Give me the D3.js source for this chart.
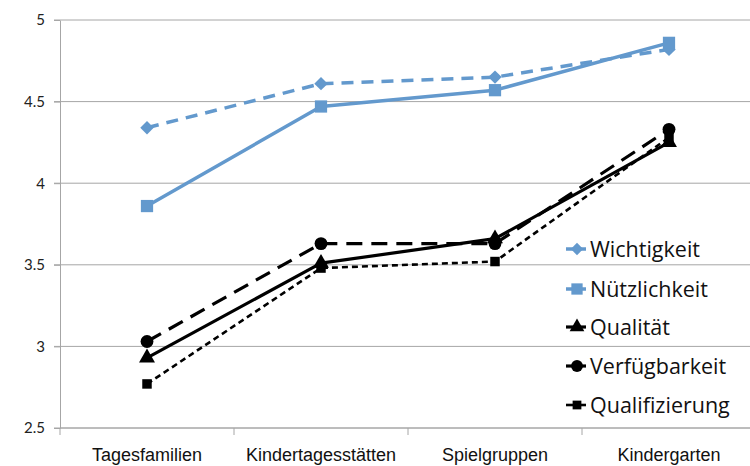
<!DOCTYPE html>
<html>
<head>
<meta charset="utf-8">
<script src="https://cdn.jsdelivr.net/npm/d3@7"></script>
<style>
  html, body { margin: 0; padding: 0; background: #fff; }
  svg { display: block; }
</style>
</head>
<body>
<svg id="chart" width="750" height="466"></svg>
<script>
const categories = ["Tagesfamilien", "Kindertagesstätten", "Spielgruppen", "Kindergarten"];
const yTicks = [2.5, 3, 3.5, 4, 4.5, 5];

const wichtigkeit    = [4.34, 4.61, 4.65, 4.82];
const nuetzlichkeit  = [3.86, 4.47, 4.57, 4.86];
const qualitaet      = [2.93, 3.51, 3.66, 4.25];
const verfuegbarkeit = [3.03, 3.63, 3.63, 4.33];
const qualifizierung = [2.77, 3.48, 3.52, 4.28];

// Wide diamond: a square rotated by 45 degrees
const symbolWideDiamond = {
  draw(context, size) {
    const r = Math.sqrt(size / 2);
    context.moveTo(0, -r);
    context.lineTo(r, 0);
    context.lineTo(0, r);
    context.lineTo(-r, 0);
    context.closePath();
  }
};

const series = [
  { name: "Wichtigkeit",    values: wichtigkeit,    color: "#6399cd", width: 3.5, dash: "12,8",  marker: "diamond",  size: 90 },
  { name: "Nützlichkeit",   values: nuetzlichkeit,  color: "#6399cd", width: 3.5, dash: null,    marker: "square",   size: 150 },
  { name: "Qualität",       values: qualitaet,      color: "#000",    width: 3.2, dash: null,    marker: "triangle", size: 110 },
  { name: "Verfügbarkeit",  values: verfuegbarkeit, color: "#000",    width: 3.2, dash: "16,9",  marker: "circle",   size: 130 },
  { name: "Qualifizierung", values: qualifizierung, color: "#000",    width: 2.6, dash: "6,4",   marker: "square",   size: 90 }
];

const svg = d3.select("#chart");
const plotLeft = 60, plotRight = 756, plotTop = 20, plotBottom = 428;

const x = d3.scaleBand().domain(categories).range([plotLeft, plotRight]);
const y = d3.scaleLinear().domain([2.5, 5]).range([plotBottom, plotTop]);

// Horizontal gridlines
svg.append("g")
  .selectAll("line")
  .data(yTicks)
  .join("line")
  .attr("x1", plotLeft - 6).attr("x2", 750)
  .attr("y1", d => y(d)).attr("y2", d => y(d))
  .attr("stroke", "#a6a6a6").attr("stroke-width", 1);

// Y axis
const yAxis = svg.append("g")
  .attr("transform", `translate(${plotLeft},0)`)
  .call(d3.axisLeft(y).tickValues(yTicks).tickSize(6).tickSizeOuter(0).tickFormat(d3.format("")));
yAxis.select(".domain").attr("stroke", "#a6a6a6");
yAxis.selectAll(".tick line").attr("stroke", "#a6a6a6");
yAxis.selectAll(".tick text")
  .attr("x", -15)
  .attr("fill", "#222")
  .style("font-family", "Lato, 'Open Sans', sans-serif")
  .style("font-size", "15px");

// X axis with tick marks at category boundaries
const xAxis = svg.append("g").attr("transform", `translate(0,${plotBottom})`);
xAxis.append("line")
  .attr("x1", plotLeft).attr("x2", 750)
  .attr("stroke", "#a6a6a6");
xAxis.selectAll("line.sep")
  .data(categories)
  .join("line")
  .attr("class", "sep")
  .attr("x1", d => x(d)).attr("x2", d => x(d))
  .attr("y1", 0).attr("y2", 7)
  .attr("stroke", "#a6a6a6");
xAxis.selectAll("text")
  .data(categories)
  .join("text")
  .attr("x", d => x(d) + x.bandwidth() / 2)
  .attr("y", 33)
  .attr("text-anchor", "middle")
  .attr("fill", "#111")
  .style("font-family", "'Liberation Sans Narrow', 'Arial Narrow', 'Liberation Sans', sans-serif")
  .style("font-size", "18px")
  .text(d => d);

const symbolType = {
  diamond: symbolWideDiamond,
  square: d3.symbolSquare,
  triangle: d3.symbolTriangle,
  circle: d3.symbolCircle
};

const line = d3.line()
  .x((d, i) => x(categories[i]) + x.bandwidth() / 2)
  .y(d => y(d));

const plot = svg.append("g");
series.forEach(s => {
  const g = plot.append("g");
  g.append("path")
    .datum(s.values)
    .attr("d", line)
    .attr("fill", "none")
    .attr("stroke", s.color)
    .attr("stroke-width", s.width)
    .attr("stroke-dasharray", s.dash)
    .attr("stroke-linejoin", "round");
  g.selectAll("path.pt")
    .data(s.values)
    .join("path")
    .attr("class", "pt")
    .attr("transform", (d, i) => `translate(${x(categories[i]) + x.bandwidth() / 2},${y(d)})`)
    .attr("d", d3.symbol().type(symbolType[s.marker]).size(s.size))
    .attr("fill", s.color);
});

// Legend
const legend = svg.append("g");
const legendY = [249, 289, 327, 366, 405];
series.forEach((s, i) => {
  const g = legend.append("g").attr("transform", `translate(566,${legendY[i]})`);
  g.append("line")
    .attr("x1", 0).attr("x2", 20)
    .attr("stroke", s.color)
    .attr("stroke-width", s.width);
  g.append("path")
    .attr("transform", "translate(11,0)")
    .attr("d", d3.symbol().type(symbolType[s.marker]).size(s.size * 0.85))
    .attr("fill", s.color);
  g.append("text")
    .attr("x", 24)
    .attr("y", 8)
    .attr("fill", "#111")
    .style("font-family", "'Open Sans', Lato, sans-serif")
    .style("font-size", "21.5px")
    .text(s.name);
});
</script>
</body>
</html>
